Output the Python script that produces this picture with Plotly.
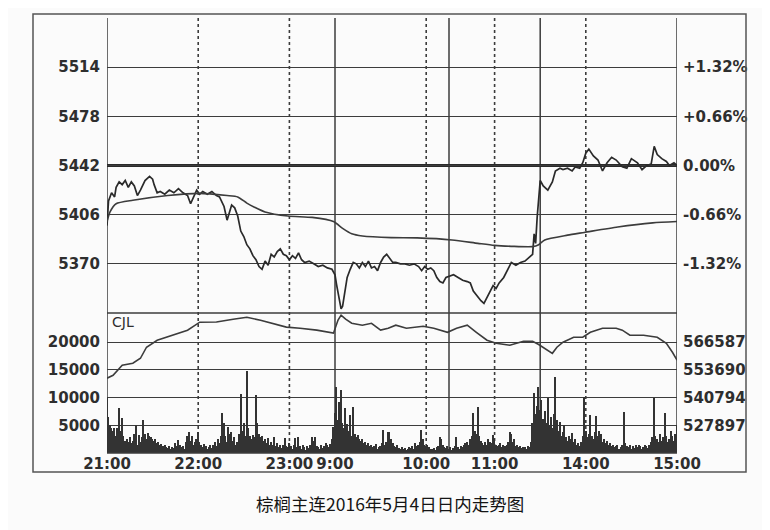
import plotly.graph_objects as go

# ---------------- data ----------------
prev_settle = 5442

price_times = ["21:00","21:01","21:03","21:05","21:06","21:08","21:10","21:12","21:14","21:16","21:18",
               "21:20","21:22","21:25","21:28","21:30","21:31","21:33","21:35","21:38","21:41",
               "21:44","21:47","21:50","21:53","21:55","21:57","21:59","22:01","22:03","22:06",
               "22:09","22:12","22:14","22:17","22:19","22:22","22:24","22:26","22:28","22:30",
               "22:32","22:34","22:36","22:38","22:40","22:42","22:44","22:46","22:48","22:50",
               "22:52","22:54","22:56","22:58","23:00","23:02","23:04","23:06","23:08","23:10",
               "23:13","23:16","23:19","23:22","23:25","23:28","23:29",
               "9:00","9:01","9:02","9:03","9:04","9:05","9:06","9:07","9:08","9:10",
               "9:12","9:14","9:16","9:18","9:20","9:22","9:24","9:26","9:28","9:30",
               "9:32","9:34","9:36","9:38","9:40","9:43","9:46","9:49","9:52","9:55",
               "9:57","9:59","10:01","10:03","10:05","10:07","10:09","10:11","10:13",
               "10:30","10:33","10:36","10:39","10:42","10:44","10:46","10:48","10:51","10:53",
               "10:55","10:57","10:59","11:01","11:03","11:06","11:09","11:11","11:14","11:17",
               "11:20","11:22","11:24","11:25","11:26","11:27","11:28","11:29",
               "13:30","13:32","13:35","13:38","13:40","13:43","13:45","13:48","13:51","13:53",
               "13:56","13:58","14:00","14:02","14:05","14:08","14:11","14:14","14:17","14:20",
               "14:24","14:27","14:30","14:34","14:37","14:40","14:43","14:45","14:47","14:50",
               "14:53","14:55","14:58","15:00"]
price_vals = [5398,5416,5422,5419,5426,5430,5428,5431,5426,5430,5427,
              5420,5424,5431,5434,5432,5428,5422,5423,5421,5424,
              5422,5425,5422,5420,5414,5419,5424,5421,5423,5421,
              5423,5420,5419,5412,5402,5413,5411,5405,5394,5390,
              5384,5381,5376,5373,5368,5366,5372,5369,5377,5375,
              5379,5381,5377,5376,5373,5376,5374,5378,5373,5371,
              5372,5370,5368,5369,5367,5366,5364,
              5362,5355,5349,5342,5337,5339,5346,5353,5360,5366,
              5371,5370,5367,5371,5368,5372,5367,5368,5365,5371,
              5375,5377,5374,5371,5371,5370,5370,5369,5370,5368,
              5365,5368,5366,5367,5365,5360,5357,5356,5360,
              5361,5362,5360,5358,5357,5356,5350,5347,5343,5341,
              5345,5350,5354,5352,5356,5360,5367,5371,5369,5371,
              5372,5374,5376,5377,5392,5385,5404,5419,
              5431,5427,5424,5430,5438,5440,5439,5440,5438,5441,
              5440,5444,5451,5454,5449,5446,5438,5444,5448,5446,
              5441,5440,5447,5444,5439,5442,5443,5456,5450,5447,
              5445,5442,5444,5442]

avg_times = ["21:00","21:02","21:06","21:17","21:40","22:01","22:19","22:26","22:32","22:37",
             "22:44","22:59","23:15","23:29","9:05","9:11","9:18","9:37","9:54","10:32",
             "10:49","11:00","11:25","11:29","13:33","13:48","13:59","14:21","14:44","15:00"]
avg_vals = [5401,5408,5414,5416.5,5420,5421.6,5420,5419,5414.5,5411.5,
            5408,5405,5404,5401,5396,5392,5390.4,5389.2,5389,5387.5,
            5385,5383.5,5382.6,5384,5387.5,5391,5393,5397,5400,5401]

oi_times = ["21:00","21:04","21:10","21:17","21:22","21:26","21:33","21:43","21:53","22:01",
            "22:12","22:23","22:32","22:41","22:49","22:58","23:07","23:18","23:29",
            "9:02","9:04","9:07","9:11","9:18","9:24","9:30","9:35","9:40","9:47","9:58",
            "10:05","10:14","10:35","10:42","10:48","10:55","11:01","11:10","11:19","11:25","11:29",
            "13:32","13:38","13:41","13:45","13:52","13:58","14:03","14:11","14:20","14:24",
            "14:29","14:38","14:47","14:53","14:57","15:00"]
oi_vals = [549800,551200,555900,556800,559100,564250,567500,569850,572200,575900,
           576000,577300,578200,576800,575400,573600,573100,572200,570800,
           576900,579200,577300,575400,574500,575400,572200,573100,574500,573100,574000,
           573100,571200,573100,574500,571200,567500,566100,565200,567000,567000,565500,
           564250,561400,564250,566600,568900,568900,571200,573100,573100,572200,
           569850,569850,568900,566100,561900,558200]

# per-minute volume (hundreds of lots), each list starts at its session's open
vol_night_2100 = [101,65,50,45,40,45,30,45,81,40, 63,30,22,25,20,28,18,22,35,50,
                  15,32,20,28,60,35,25,36,30,29, 25,22,26,18,20,14,16,12,15,10,
                  9,12,8,10,9,18,12,23,15,10, 12,8,20,30,38,22,30,14,20,25,
                  38,20,14,10,16,12,8,10,14,9, 15,20,12,25,18,30,72,54,30,20,
                  47,35,38,22,28,15,20,35,106,40, 55,30,148,45,30,25,32,28,105,54,
                  35,28,30,22,25,18,27,15,20,14, 29,12,18,10,15,9,14,27,12,10,
                  18,12,8,14,27,10,29,12,8,15, 10,6,12,9,14,29,22,29,12,10,
                  8,14,9,12,18,14,10,16,25,47]
vol_morning_0900 = [72,119,60,92,114,55,45,81,52,40, 69,30,83,35,28,32,25,22,26,18,
                    20,15,18,12,14,10,12,16,8,10, 12,18,42,14,20,38,38,25,18,12,
                    10,14,9,8,10,7,9,6,8,10, 9,12,8,18,12,15,20,42,26,15,
                    12,14,10,8,7,9,6,10,12,29, 25,14,10,9,12]
vol_mid_1030 = [8,10,6,9,12,29,10,8,12,10, 14,18,20,15,25,30,72,40,35,83,
                30,22,18,15,20,14,25,20,18,32, 25,15,12,14,18,10,14,12,15,20,
                38,35,20,25,12,14,10,12,9,11, 10,8,12,10,20,55,109,70,85,119]
vol_afternoon_1330 = [78,95,62,75,55,99,50,65,45,70, 138,60,40,56,30,38,50,28,22,30,
                      25,36,20,25,15,18,12,20,30,101, 40,28,35,69,30,25,38,66,30,40,
                      35,20,25,18,22,15,18,12,15,10, 12,15,8,10,14,74,18,12,10,14,
                      8,12,9,15,10,14,12,8,10,15, 12,9,14,20,28,100,30,25,20,35,
                      22,28,72,30,20,25,40,30,22,35, 50]

price_ticks = [5370, 5406, 5442, 5478, 5514]
vol_ticks = [5000, 10000, 15000, 20000]
oi_ticks = [527897, 540794, 553690, 566587]
time_labels = ["21:00", "22:00", "23:00", "9:00", "10:00", "11:00", "14:00", "15:00"]
solid_times = ["9:00", "10:30", "13:30"]
dotted_times = ["22:00", "23:00", "10:00", "11:00", "14:00"]
caption = "棕榈主连2016年5月4日日内走势图"


# trading-minute index: 21:00-23:30, 9:00-10:15, 10:30-11:30, 13:30-15:00
def tidx(s):
    h, m = map(int, s.split(":"))
    mm = h * 60 + m
    if mm >= 21 * 60:
        return mm - 21 * 60
    if mm <= 10 * 60 + 15:
        return 150 + mm - 9 * 60
    if mm <= 11 * 60 + 30:
        return 225 + mm - (10 * 60 + 30)
    return 285 + mm - (13 * 60 + 30)


vol_x, vol_y = [], []
for start, arr in [("21:00", vol_night_2100), ("9:00", vol_morning_0900),
                   ("10:30", vol_mid_1030), ("13:30", vol_afternoon_1330)]:
    s = tidx(start)
    for i, v in enumerate(arr):
        vol_x.append(s + i)
        vol_y.append(v * 100)

pct_text = []
for v in price_ticks:
    p = (v - prev_settle) / prev_settle * 100
    pct_text.append(("+" if p > 0.001 else "") + f"{p:.2f}%")

# ---------------- figure ----------------
OFF = 8                      # page body margin
W, H = 770 - OFF, 530 - OFF  # figure size that fits the window


def px(x):
    return (x - OFF) / W


def py(y):
    return 1 - (y - OFF) / H


L, R = 107, 677
P_TOP, SEP, V_BOT = 18, 313, 453
INK = "#2e2e2e"
LINE = "#3c3c3c"
FONT = dict(family="DejaVu Sans", size=15, color=INK, weight="bold")

fig = go.Figure()
fig.add_trace(go.Bar(x=vol_x, y=vol_y, xaxis="x2", yaxis="y2", width=1.0,
                     marker=dict(color="#333333", line=dict(width=0)), showlegend=False))
fig.add_trace(go.Scatter(x=[tidx(t) for t in oi_times], y=oi_vals, xaxis="x2", yaxis="y4",
                         mode="lines", line=dict(color=LINE, width=1.6), showlegend=False))
fig.add_trace(go.Scatter(x=[tidx(t) for t in avg_times], y=avg_vals, xaxis="x", yaxis="y3",
                         mode="lines", line=dict(color=LINE, width=1.6, shape="spline", smoothing=0.6),
                         showlegend=False))
fig.add_trace(go.Scatter(x=[tidx(t) for t in price_times], y=price_vals, xaxis="x", yaxis="y",
                         mode="lines", line=dict(color="#2a2a2a", width=1.7), showlegend=False))

xdom = [px(L), px(R)]
pdom = [py(SEP), py(P_TOP)]
vdom = [py(V_BOT), py(SEP)]
prange = [prev_settle - 108, prev_settle + 108]
vrange = [0, (V_BOT - SEP) * 5000 / 27.7]
oi_step = (oi_ticks[1] - oi_ticks[0]) / 5000
orange = [oi_ticks[0] - 5000 * oi_step, oi_ticks[0] - 5000 * oi_step + vrange[1] * oi_step]

fig.update_layout(
    width=W, height=H, margin=dict(l=0, r=0, t=0, b=0),
    paper_bgcolor="#fbfbfb", plot_bgcolor="#fbfbfb", bargap=0,
    xaxis=dict(domain=xdom, range=[0, 375], anchor="y", showticklabels=False,
               showgrid=False, zeroline=False, fixedrange=True),
    xaxis2=dict(domain=xdom, range=[0, 375], anchor="y2", tickvals=[tidx(t) for t in time_labels],
                ticktext=time_labels, tickangle=0, ticks="", showgrid=False, zeroline=False,
                tickfont=FONT, ticklabelstandoff=0, automargin=False),
    yaxis=dict(domain=pdom, range=prange, anchor="x", tickvals=price_ticks, ticks="",
               showgrid=True, gridcolor=LINE, gridwidth=1.2, zeroline=False, tickfont=FONT,
               ticklabelstandoff=6, automargin=False),
    yaxis3=dict(overlaying="y", side="right", range=prange, anchor="x", tickvals=price_ticks,
                ticktext=pct_text, ticks="", showgrid=False, zeroline=False, tickfont=FONT,
                ticklabelstandoff=5, automargin=False),
    yaxis2=dict(domain=vdom, range=vrange, anchor="x2", tickvals=vol_ticks,
                ticktext=[str(v) for v in vol_ticks], ticks="",
                showgrid=True, gridcolor=LINE, gridwidth=1.2, zeroline=False, tickfont=FONT,
                ticklabelstandoff=6, automargin=False),
    yaxis4=dict(overlaying="y2", side="right", range=orange, anchor="x2", tickvals=oi_ticks,
                ticktext=[str(v) for v in oi_ticks], ticks="", showgrid=False, zeroline=False,
                tickfont=FONT, ticklabelstandoff=5, automargin=False),
)

shapes = []
# outer frame
shapes.append(dict(type="rect", xref="paper", yref="paper", x0=px(33), x1=px(746),
                   y0=py(472), y1=py(14), line=dict(color="#555555", width=1.5)))
# panel borders and session breaks
for t in [0, 375] + [tidx(s) for s in solid_times]:
    shapes.append(dict(type="line", xref="x", yref="paper", x0=t, x1=t,
                       y0=py(V_BOT), y1=py(P_TOP), line=dict(color=LINE, width=1.5),
                       layer="below"))
for t in [tidx(s) for s in dotted_times]:
    shapes.append(dict(type="line", xref="x", yref="paper", x0=t, x1=t,
                       y0=py(V_BOT), y1=py(P_TOP),
                       line=dict(color=LINE, width=1.6, dash="dot"), layer="below"))
for yy in [SEP, V_BOT]:
    shapes.append(dict(type="line", xref="x", yref="paper", x0=0, x1=375,
                       y0=py(yy), y1=py(yy), line=dict(color=LINE, width=1.5)))
shapes.append(dict(type="line", xref="x", yref="y", x0=-1.5, x1=375, y0=prev_settle,
                   y1=prev_settle, line=dict(color="#2a2a2a", width=3), layer="below"))
fig.update_layout(shapes=shapes)

fig.add_annotation(text="CJL", xref="paper", yref="paper", x=px(110), y=py(322),
                   xanchor="left", yanchor="middle", showarrow=False,
                   font=dict(family="DejaVu Sans", size=14, color=INK))
fig.add_annotation(text=caption, xref="paper", yref="paper", x=px(390), y=py(503),
                   xanchor="center", yanchor="middle", showarrow=False,
                   font=dict(family="Noto Sans CJK SC", size=17.5, color="#151515"))

fig.write_html("out.html")
